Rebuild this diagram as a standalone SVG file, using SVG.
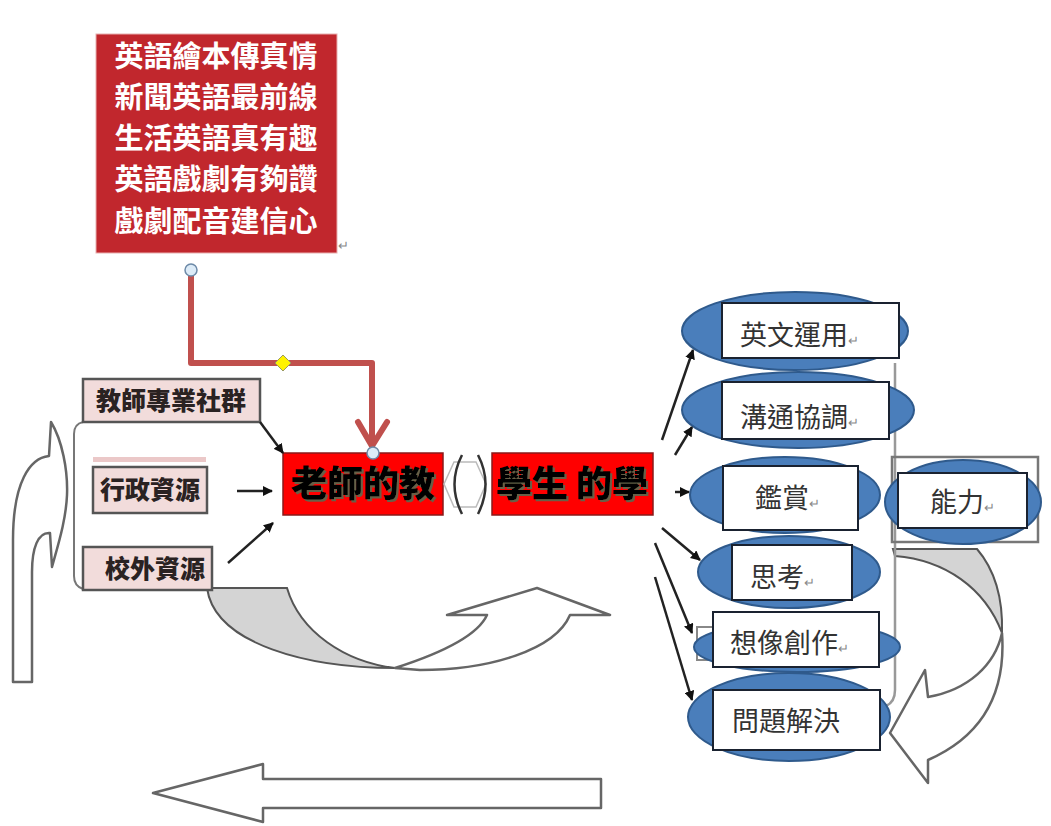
<svg xmlns="http://www.w3.org/2000/svg" width="1051" height="826" viewBox="0 0 1051 826">
<style>
.cjk{font-family:"Noto Sans CJK TC","Noto Sans CJK SC",sans-serif}
.pink{fill:#F2DCDB;stroke:#555;stroke-width:2.5}
.ptxt{font-size:25px;font-weight:900;fill:#2a2222}
.ell{fill:#4A7EBB;stroke:#2F5A8C;stroke-width:2}
.tb{fill:#fff;stroke:#1a2230;stroke-width:2}
.rtxt{font-size:27px;fill:#333}
.ret{font-size:13px;fill:#888}
.big{font-size:36px;font-weight:900;fill:#000}
.outl{fill:#fff;stroke:#666;stroke-width:2.5;stroke-linejoin:round}
.gfill{fill:#d4d4d4;stroke:#555;stroke-width:2}
.conn{stroke:#222;stroke-width:2.5;fill:none}
</style>
<defs>
<marker id="ah" viewBox="0 0 10 10" refX="9" refY="5" markerWidth="4" markerHeight="4" orient="auto"><path d="M0,0 L10,5 L0,10 Z" fill="#111"/></marker>
<filter id="sh"><feDropShadow dx="2" dy="2" stdDeviation="0.6" flood-color="#5a6a50" flood-opacity="0.9"/></filter>
</defs>
<rect width="1051" height="826" fill="#fff"/>

<g id="bg-arrows">
<path class="outl" d="M13,682 L13,540 C13,482 30,458 49,456 L51,422 C62,440 68,470 67,495 C66,520 58,545 52,567 L50,533 C38,532 32,548 32,572 L32,682 Z"/>
<path class="outl" d="M263,764 L263,779 L601,779 L601,808 L263,808 L263,822 L153,793 Z"/>
<path class="gfill" d="M207,588 L287,588 C300,632 345,662 395,668 C310,668 215,645 207,588 Z"/>
<path class="outl" d="M395,668 C445,652 478,635 487,615 L447,615 L537,588 L610,615 L570,615 C555,650 490,670 420,670 Z"/>
<path class="gfill" d="M893,549 L977,549 C995,570 1003,600 1002,633 C985,588 945,560 895,556 Z"/>
<path class="outl" d="M1002,633 C1006,690 985,735 928,760 L928,783 L890,733 L925,670 L928,697 C968,690 995,665 1002,633 Z"/>
<path d="M895,363 L895,690 Q895,702 886,706" fill="none" stroke="#999" stroke-width="2.5"/>
<path d="M83,422 Q74,424 74,434 L74,576 Q74,586 83,589" fill="none" stroke="#777" stroke-width="2"/>
</g>

<g id="n-top">
<rect x="96" y="34" width="241" height="219" fill="#C1272D" stroke="#e8b0b0" stroke-width="1"/>
<g class="cjk" font-size="29" font-weight="700" fill="#fff" text-anchor="middle">
<text x="216" y="67">英語繪本傳真情</text>
<text x="216" y="108">新聞英語最前線</text>
<text x="216" y="149">生活英語真有趣</text>
<text x="216" y="190">英語戲劇有夠讚</text>
<text x="216" y="232">戲劇配音建信心</text>
</g>
<text class="cjk ret" x="338" y="250">↵</text>
</g>

<g id="n-prof">
<rect class="pink" x="83" y="379" width="177" height="43"/>
<text class="cjk ptxt" x="171" y="410" text-anchor="middle">教師專業社群</text>
</g>
<g id="n-admin">
<rect x="93" y="457" width="113" height="5" fill="#EBC8C8"/>
<rect class="pink" x="93" y="467" width="114" height="46"/>
<text class="cjk ptxt" x="150" y="499" text-anchor="middle">行政資源</text>
</g>
<g id="n-outside">
<rect class="pink" x="83" y="547" width="129" height="43"/>
<text class="cjk ptxt" x="155" y="578" text-anchor="middle">校外資源</text>
</g>

<g id="n-teach">
<rect x="283" y="453" width="160" height="62" fill="#FF0000" stroke="#8a1a1a" stroke-width="1.5"/>
<text class="cjk big" x="363" y="497" text-anchor="middle" filter="url(#sh)">老師的教</text>
</g>
<g id="n-bridge">
<path d="M454,462 L476,462 L486,484 L476,507 L454,507 L444,484 Z" fill="#fff" stroke="#bbb" stroke-width="1.5"/>
<path d="M462,455 Q447,484 462,514" fill="none" stroke="#333" stroke-width="2.5"/>
<path d="M478,455 Q493,484 478,514" fill="none" stroke="#333" stroke-width="2.5"/>
</g>
<g id="n-learn">
<rect x="492" y="453" width="161" height="62" fill="#FF0000" stroke="#8a1a1a" stroke-width="1.5"/>
<text class="cjk big" x="572" y="497" text-anchor="middle" filter="url(#sh)">學生 的學</text>
</g>

<g id="n-eng">
<ellipse class="ell" cx="795" cy="331" rx="113" ry="39"/>
<rect class="tb" x="722" y="303" width="177" height="55"/>
<text class="cjk rtxt" x="740" y="345">英文運用<tspan class="ret">↵</tspan></text>
</g>
<g id="n-comm">
<ellipse class="ell" cx="798" cy="410" rx="116" ry="38"/>
<rect class="tb" x="722" y="382" width="167" height="57"/>
<text class="cjk rtxt" x="740" y="427">溝通協調<tspan class="ret">↵</tspan></text>
</g>
<g id="n-appr">
<ellipse class="ell" cx="785" cy="495" rx="95" ry="38"/>
<rect class="tb" x="723" y="466" width="135" height="64"/>
<text class="cjk rtxt" x="755" y="508">鑑賞<tspan class="ret">↵</tspan></text>
</g>
<g id="n-think">
<ellipse class="ell" cx="789" cy="572" rx="91" ry="36"/>
<rect class="tb" x="732" y="545" width="120" height="55"/>
<text class="cjk rtxt" x="750" y="587">思考<tspan class="ret">↵</tspan></text>
</g>
<g id="n-imag">
<rect x="697" y="627" width="18" height="33" fill="none" stroke="#888" stroke-width="2"/>
<ellipse class="ell" cx="797" cy="647" rx="103" ry="25"/>
<rect class="tb" x="713" y="612" width="166" height="55"/>
<text class="cjk rtxt" x="730" y="653">想像創作<tspan class="ret">↵</tspan></text>
</g>
<g id="n-solve">
<ellipse class="ell" cx="789" cy="717" rx="101" ry="44"/>
<rect class="tb" x="713" y="690" width="167" height="60"/>
<text class="cjk rtxt" x="732" y="731">問題解決</text>
</g>
<g id="n-abil">
<rect x="892" y="457" width="146" height="85" fill="none" stroke="#777" stroke-width="2.5"/>
<ellipse class="ell" cx="963" cy="502" rx="78" ry="42"/>
<rect class="tb" x="898" y="473" width="129" height="55"/>
<text class="cjk rtxt" x="930" y="512">能力<tspan class="ret">↵</tspan></text>
</g>

<g id="connectors">
<line class="conn" x1="260" y1="422" x2="283" y2="453" marker-end="url(#ah)"/>
<line class="conn" x1="237" y1="491" x2="272" y2="491" marker-end="url(#ah)"/>
<line class="conn" x1="228" y1="563" x2="273" y2="523" marker-end="url(#ah)"/>
<line class="conn" x1="662" y1="440" x2="693" y2="350" marker-end="url(#ah)"/>
<line class="conn" x1="675" y1="455" x2="692" y2="427" marker-end="url(#ah)"/>
<line class="conn" x1="675" y1="492" x2="689" y2="492" marker-end="url(#ah)"/>
<line class="conn" x1="662" y1="528" x2="700" y2="560" marker-end="url(#ah)"/>
<line class="conn" x1="655" y1="543" x2="692" y2="633" marker-end="url(#ah)"/>
<line class="conn" x1="655" y1="577" x2="692" y2="700" marker-end="url(#ah)"/>
<path d="M191,276 L191,363 L372,363 L372,446" fill="none" stroke="#C0504D" stroke-width="6" stroke-linejoin="round"/>
<path d="M358,422 L372,446 L387,422" fill="none" stroke="#C0504D" stroke-width="6" stroke-linecap="round" stroke-linejoin="round"/>
<circle cx="191" cy="270" r="6" fill="#DCEBF7" stroke="#6d8aa8" stroke-width="1.5"/>
<circle cx="373" cy="453" r="6" fill="#DCEBF7" stroke="#6d8aa8" stroke-width="1.5"/>
<path d="M283,355 L291,363 L283,371 L275,363 Z" fill="#FFF200" stroke="#9a9a60" stroke-width="1"/>
</g>
</svg>
